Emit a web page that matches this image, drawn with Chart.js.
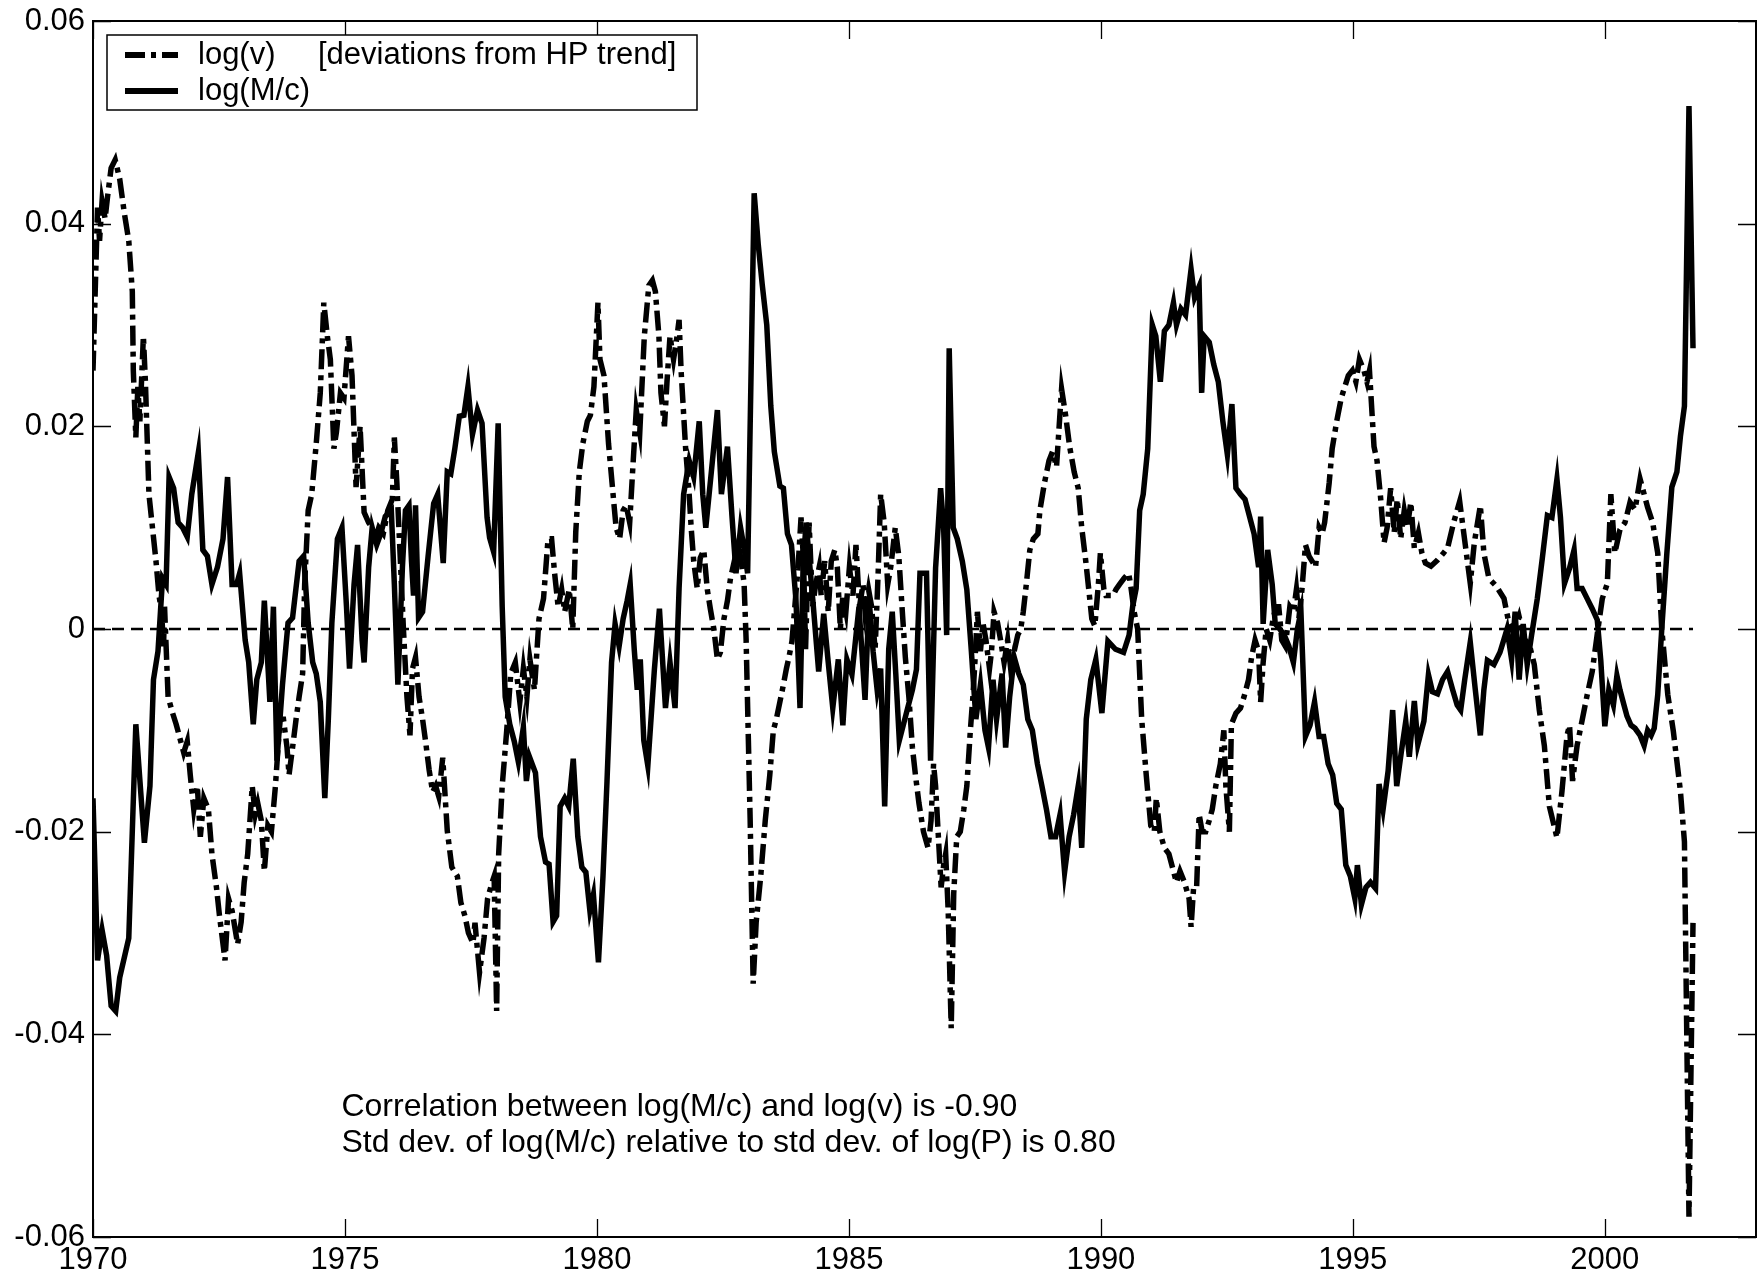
<!DOCTYPE html>
<html>
<head>
<meta charset="utf-8">
<script src="https://cdn.jsdelivr.net/npm/chart.js@4.4.1/dist/chart.umd.min.js"></script>
<style>
html,body{margin:0;padding:0;background:#fff;}
canvas{display:block;}
</style>
</head>
<body>
<canvas id="c" width="1760" height="1280"></canvas>
<script>
// ---------- DATA ----------
// log(v): deviations from HP trend (dash-dot)
const vYears = [
1970.00,1970.09,1970.13,1970.18,1970.24,1970.29,1970.36,1970.44,1970.53,1970.62,1970.71,1970.78,1970.80,1970.85,1970.89,1970.93,
1971.00,1971.04,1971.11,1971.18,1971.25,1971.31,1971.36,1971.40,1971.42,1971.49,1971.58,1971.65,1971.71,1971.80,1971.87,1971.93,
1972.00,1972.07,1972.13,1972.20,1972.29,1972.36,1972.45,1972.51,1972.62,1972.69,1972.76,1972.87,1972.94,
1973.00,1973.07,1973.16,1973.22,1973.27,1973.34,1973.40,1973.47,1973.54,1973.62,1973.71,1973.78,1973.85,1973.89,1973.96,
1974.03,1974.09,1974.16,1974.20,1974.27,1974.34,1974.43,1974.51,1974.58,1974.65,1974.71,1974.78,1974.83,1974.91,1974.98,
1975.07,1975.14,1975.22,1975.30,1975.38,1975.47,1975.54,1975.60,1975.67,1975.76,1975.85,1975.94,1975.98,
1976.03,1976.07,1976.16,1976.23,1976.29,1976.34,1976.40,1976.47,1976.54,1976.60,1976.67,1976.74,1976.80,1976.86,1976.94,
1977.03,1977.12,1977.23,1977.30,1977.38,1977.45,1977.54,1977.58,1977.67,1977.76,1977.83,1977.92,1977.96,
1978.01,1978.05,1978.12,1978.21,1978.29,1978.38,1978.47,1978.54,1978.61,1978.67,1978.76,1978.85,1978.94,
1979.03,1979.10,1979.16,1979.23,1979.30,1979.36,1979.45,1979.52,1979.58,1979.65,1979.72,1979.81,1979.87,1979.94,
1980.02,1980.06,1980.14,1980.23,1980.32,1980.38,1980.45,1980.52,1980.58,1980.65,1980.72,1980.78,1980.85,1980.94,
1981.03,1981.10,1981.16,1981.23,1981.27,1981.34,1981.39,1981.45,1981.52,1981.59,1981.63,1981.67,1981.76,1981.83,1981.87,1981.92,1981.99,
1982.05,1982.12,1982.19,1982.25,1982.32,1982.39,1982.45,1982.52,1982.59,1982.65,1982.74,1982.81,1982.88,1982.92,1982.96,
1983.04,1983.10,1983.16,1983.25,1983.34,1983.43,1983.50,1983.56,1983.63,1983.70,1983.76,1983.81,1983.87,1983.94,1983.99,
1984.05,1984.10,1984.14,1984.21,1984.28,1984.34,1984.41,1984.45,1984.52,1984.59,1984.65,1984.72,1984.77,1984.83,1984.88,1984.94,
1985.01,1985.08,1985.14,1985.21,1985.28,1985.32,1985.39,1985.45,1985.52,1985.58,1985.63,1985.70,1985.77,1985.83,1985.92,1985.99,
1986.06,1986.12,1986.19,1986.26,1986.32,1986.39,1986.48,1986.57,1986.63,1986.68,1986.72,1986.77,1986.83,1986.88,1986.92,1986.97,
1987.03,1987.08,1987.14,1987.21,1987.28,1987.34,1987.41,1987.46,1987.50,1987.55,1987.61,1987.66,1987.72,1987.79,1987.83,1987.88,1987.95,
1988.01,1988.08,1988.15,1988.21,1988.28,1988.35,1988.41,1988.46,1988.52,1988.59,1988.66,1988.75,1988.79,1988.88,1988.97,
1989.04,1989.12,1989.22,1989.30,1989.38,1989.47,1989.55,1989.62,1989.70,1989.76,1989.82,1989.88,1989.95,1989.99,
1990.06,1990.10,1990.17,1990.24,1990.30,1990.37,1990.46,1990.55,1990.59,1990.66,1990.73,1990.81,1990.90,1990.99,
1991.06,1991.10,1991.17,1991.26,1991.35,1991.44,1991.50,1991.57,1991.66,1991.75,1991.79,1991.84,1991.90,1991.95,
1992.01,1992.08,1992.15,1992.21,1992.28,1992.37,1992.44,1992.48,1992.55,1992.59,1992.68,1992.77,1992.84,1992.93,1992.99,
1993.06,1993.13,1993.17,1993.22,1993.28,1993.35,1993.42,1993.48,1993.53,1993.59,1993.66,1993.75,1993.82,1993.88,1993.93,1993.99,
1994.06,1994.13,1994.19,1994.26,1994.33,1994.39,1994.44,1994.53,1994.59,1994.68,1994.77,1994.84,1994.91,1994.99,
1995.06,1995.13,1995.22,1995.28,1995.33,1995.42,1995.48,1995.55,1995.62,1995.68,1995.75,1995.82,1995.88,1995.95,
1996.02,1996.08,1996.15,1996.22,1996.30,1996.37,1996.44,1996.55,1996.68,1996.80,1996.88,
1997.00,1997.12,1997.20,1997.33,1997.41,1997.53,1997.60,1997.70,1997.85,
1998.00,1998.10,1998.20,1998.30,1998.40,1998.50,1998.60,1998.70,1998.80,1998.90,
1999.05,1999.15,1999.25,1999.30,1999.36,1999.45,1999.55,1999.65,1999.75,1999.85,1999.95,
2000.05,2000.12,2000.20,2000.30,2000.40,2000.50,2000.60,2000.70,2000.78,2000.85,2000.95,
2001.05,2001.13,2001.25,2001.36,2001.50,2001.58,2001.67,2001.75
];
const vValues = [
0.0255,0.0416,0.0383,0.0422,0.0405,0.0427,0.0455,0.0463,0.0444,0.0411,0.0383,0.0333,0.0255,0.0189,0.0239,0.0205,
0.0289,0.0244,0.0133,0.0100,0.0067,0.0033,0.0017,-0.0017,0.0022,-0.0067,-0.0083,-0.0094,-0.0105,-0.0122,-0.0111,-0.0144,
-0.0178,-0.0155,-0.0205,-0.0167,-0.0178,-0.0222,-0.0255,-0.0283,-0.0327,-0.0266,-0.0278,-0.0311,-0.0289,
-0.0250,-0.0222,-0.0155,-0.0183,-0.0172,-0.0189,-0.0239,-0.0194,-0.0200,-0.0155,-0.0089,-0.0089,-0.0117,-0.0144,-0.0117,
-0.0089,-0.0067,-0.0044,0.0044,0.0117,0.0133,0.0183,0.0233,0.0322,0.0289,0.0266,0.0178,0.0194,0.0233,0.0228,
0.0289,0.0250,0.0140,0.0200,0.0115,0.0105,0.0100,0.0089,0.0100,0.0094,0.0117,0.0128,0.0189,
0.0144,0.0100,0.0000,-0.0067,-0.0105,-0.0039,-0.0028,-0.0067,-0.0089,-0.0111,-0.0139,-0.0161,-0.0155,-0.0165,-0.0127,
-0.0199,-0.0235,-0.0244,-0.0270,-0.0283,-0.0300,-0.0310,-0.0290,-0.0339,-0.0305,-0.0266,-0.0250,-0.0244,
-0.0377,-0.0222,-0.0155,-0.0100,-0.0044,-0.0033,-0.0072,-0.0039,-0.0067,-0.0030,-0.0060,0.0010,0.0030,
0.0089,0.0089,0.0055,0.0022,0.0039,0.0017,0.0039,0.0000,0.0096,0.0155,0.0183,0.0205,0.0211,0.0239,
0.0322,0.0266,0.0250,0.0183,0.0133,0.0100,0.0089,0.0117,0.0122,0.0105,0.0166,0.0216,0.0194,0.0289,
0.0339,0.0344,0.0333,0.0289,0.0233,0.0200,0.0244,0.0289,0.0266,0.0289,0.0305,0.0255,0.0178,0.0133,0.0100,0.0067,0.0040,
0.0070,0.0078,0.0039,0.0020,0.0000,-0.0030,-0.0023,0.0010,0.0028,0.0050,0.0070,0.0085,0.0060,0.0045,-0.0010,
-0.0187,-0.0350,-0.0289,-0.0244,-0.0189,-0.0144,-0.0100,-0.0089,-0.0072,-0.0055,-0.0039,-0.0028,-0.0012,0.0030,0.0060,
0.0110,0.0067,-0.0020,0.0105,0.0022,0.0044,0.0061,0.0033,0.0067,0.0017,0.0067,0.0078,0.0061,0.0000,0.0033,0.0017,
0.0061,0.0033,0.0083,0.0022,0.0044,0.0017,0.0039,0.0022,-0.0020,0.0055,0.0133,0.0105,0.0044,0.0061,0.0100,0.0072,
0.0017,-0.0028,-0.0067,-0.0117,-0.0144,-0.0172,-0.0200,-0.0216,-0.0189,-0.0133,-0.0155,-0.0200,-0.0255,-0.0233,-0.0222,-0.0278,
-0.0394,-0.0261,-0.0205,-0.0200,-0.0178,-0.0155,-0.0100,-0.0067,-0.0033,0.0017,-0.0022,0.0006,-0.0011,-0.0039,-0.0022,0.0017,0.0006,
-0.0011,-0.0033,-0.0011,-0.0039,-0.0022,-0.0006,0.0000,0.0017,0.0044,0.0078,0.0089,0.0094,0.0117,0.0144,0.0166,
0.0175,0.0160,0.0237,0.0211,0.0180,0.0155,0.0139,0.0100,0.0067,0.0039,0.0010,0.0003,0.0044,0.0075,
0.0039,0.0033,0.0033,0.0033,0.0039,0.0044,0.0050,0.0055,0.0044,0.0017,0.0000,-0.0089,-0.0144,-0.0194,
-0.0200,-0.0167,-0.0200,-0.0216,-0.0222,-0.0239,-0.0250,-0.0239,-0.0250,-0.0266,-0.0294,-0.0255,-0.0255,-0.0183,
-0.0200,-0.0200,-0.0189,-0.0178,-0.0155,-0.0133,-0.0100,-0.0155,-0.0200,-0.0094,-0.0083,-0.0078,-0.0067,-0.0050,-0.0028,
-0.0011,-0.0022,-0.0072,-0.0033,0.0000,-0.0011,0.0011,0.0022,0.0022,-0.0011,-0.0017,0.0022,0.0017,0.0039,0.0011,0.0039,
0.0083,0.0072,0.0067,0.0061,0.0100,0.0094,0.0105,0.0144,0.0178,0.0205,0.0228,0.0239,0.0250,0.0255,
0.0244,0.0266,0.0255,0.0244,0.0255,0.0180,0.0166,0.0130,0.0085,0.0100,0.0139,0.0095,0.0128,0.0089,
0.0117,0.0100,0.0125,0.0080,0.0095,0.0075,0.0065,0.0062,0.0068,0.0075,0.0080,
0.0105,0.0126,0.0095,0.0045,0.0085,0.0122,0.0075,0.0050,0.0042,
0.0030,0.0005,-0.0005,0.0012,-0.0010,-0.0015,-0.0035,-0.0080,-0.0115,-0.0175,
-0.0206,-0.0160,-0.0105,-0.0095,-0.0150,-0.0115,-0.0090,-0.0065,-0.0042,-0.0005,0.0030,
0.0045,0.0133,0.0075,0.0098,0.0105,0.0125,0.0118,0.0148,0.0133,0.0120,0.0105,
0.0075,0.0000,-0.0065,-0.0101,-0.0160,-0.0210,-0.0580,-0.0290
];

// log(M/c) (solid)
const mYears = [
1970.00,1970.09,1970.18,1970.27,1970.36,1970.45,1970.53,1970.71,1970.85,
1971.02,1971.13,1971.20,1971.29,1971.38,1971.45,1971.51,1971.60,1971.69,1971.78,1971.87,1971.96,
1972.09,1972.18,1972.27,1972.36,1972.47,1972.58,1972.67,1972.76,1972.85,1972.91,
1973.02,1973.09,1973.18,1973.25,1973.34,1973.40,1973.45,1973.51,1973.58,1973.65,1973.76,1973.87,1973.96,
1974.09,1974.18,1974.27,1974.36,1974.43,1974.51,1974.60,1974.67,1974.74,1974.85,1974.94,
1975.03,1975.09,1975.18,1975.25,1975.34,1975.38,1975.47,1975.54,1975.63,1975.71,1975.80,1975.92,1975.98,
1976.05,1976.14,1976.20,1976.27,1976.32,1976.36,1976.40,1976.46,1976.54,1976.65,1976.76,1976.84,1976.95,
1977.03,1977.10,1977.18,1977.27,1977.36,1977.44,1977.53,1977.63,1977.72,1977.82,1977.87,1977.95,
1978.04,1978.12,1978.18,1978.27,1978.36,1978.44,1978.54,1978.60,1978.66,1978.78,1978.88,1978.98,
1979.05,1979.13,1979.20,1979.27,1979.36,1979.44,1979.53,1979.62,1979.70,1979.78,1979.86,1979.93,
1980.03,1980.12,1980.20,1980.29,1980.36,1980.44,1980.52,1980.60,1980.66,1980.74,1980.80,1980.86,1980.93,
1981.01,1981.14,1981.24,1981.36,1981.45,1981.55,1981.63,1981.72,1981.83,1981.92,
1982.03,1982.10,1982.16,1982.27,1982.39,1982.47,1982.59,1982.68,1982.76,1982.85,1982.92,1982.99,
1983.12,1983.20,1983.28,1983.37,1983.45,1983.52,1983.63,1983.70,1983.78,1983.86,1983.95,
1984.03,1984.09,1984.15,1984.29,1984.40,1984.50,1984.58,1984.68,1984.79,1984.88,1984.96,
1985.06,1985.20,1985.32,1985.40,1985.48,1985.56,1985.63,1985.71,1985.79,1985.86,1985.93,
1986.00,1986.13,1986.26,1986.34,1986.41,1986.54,1986.62,1986.72,1986.82,1986.88,1986.94,1986.99,
1987.07,1987.15,1987.25,1987.34,1987.43,1987.52,1987.61,1987.70,1987.77,1987.86,1987.93,
1988.04,1988.11,1988.19,1988.28,1988.37,1988.46,1988.55,1988.64,1988.74,1988.83,1988.92,
1989.01,1989.10,1989.19,1989.28,1989.37,1989.46,1989.55,1989.62,1989.71,1989.80,1989.90,
1990.02,1990.14,1990.29,1990.45,1990.56,1990.63,1990.70,1990.77,1990.84,1990.93,
1991.02,1991.09,1991.18,1991.26,1991.35,1991.44,1991.50,1991.59,1991.68,1991.79,1991.86,1991.95,
1992.00,1992.05,1992.15,1992.24,1992.33,1992.42,1992.51,1992.60,1992.68,1992.77,1992.86,1992.95,
1993.04,1993.13,1993.17,1993.22,1993.31,1993.40,1993.46,1993.55,1993.64,1993.73,1993.82,1993.90,1993.97,
1994.06,1994.15,1994.24,1994.33,1994.42,1994.51,1994.60,1994.68,1994.77,1994.86,1994.95,
1995.04,1995.09,1995.17,1995.26,1995.35,1995.45,1995.52,1995.60,1995.70,1995.79,1995.87,1995.96,
1996.05,1996.12,1996.22,1996.29,1996.41,1996.50,1996.58,1996.68,1996.78,1996.88,1996.98,
1997.07,1997.14,1997.22,1997.33,1997.43,1997.53,1997.60,1997.67,1997.80,1997.92,
1998.00,1998.06,1998.15,1998.22,1998.30,1998.38,1998.46,1998.55,1998.66,1998.76,1998.86,1998.95,
1999.05,1999.12,1999.20,1999.30,1999.39,1999.45,1999.55,1999.65,1999.75,1999.85,1999.92,
2000.00,2000.08,2000.17,2000.24,2000.30,2000.38,2000.44,2000.52,2000.60,2000.70,2000.78,2000.85,2000.92,2000.98,
2001.05,2001.13,2001.23,2001.33,2001.43,2001.50,2001.58,2001.67,2001.75
];
const mValues = [
-0.0167,-0.0327,-0.0297,-0.0322,-0.0372,-0.0377,-0.0344,-0.0305,-0.0094,
-0.0211,-0.0155,-0.0050,-0.0022,0.0050,0.0044,0.0150,0.0139,0.0105,0.0100,0.0091,0.0133,
0.0174,0.0078,0.0072,0.0044,0.0061,0.0089,0.0150,0.0044,0.0044,0.0055,
-0.0011,-0.0033,-0.0094,-0.0050,-0.0033,0.0028,-0.0017,-0.0072,0.0022,-0.0130,-0.0055,0.0006,0.0011,
0.0067,0.0072,0.0006,-0.0033,-0.0044,-0.0072,-0.0167,-0.0089,0.0006,0.0089,0.0100,
0.0022,-0.0039,0.0044,0.0083,-0.0011,-0.0033,0.0061,0.0100,0.0083,0.0094,0.0111,0.0117,0.0044,
-0.0055,0.0061,0.0117,0.0122,0.0067,0.0033,0.0122,0.0011,0.0017,0.0072,0.0124,0.0133,0.0065,
0.0155,0.0153,0.0178,0.0210,0.0211,0.0239,0.0192,0.0216,0.0203,0.0110,0.0090,0.0076,
0.0203,0.0022,-0.0067,-0.0094,-0.0111,-0.0131,-0.0097,-0.0150,-0.0126,-0.0142,-0.0205,-0.0230,
-0.0232,-0.0289,-0.0283,-0.0175,-0.0167,-0.0175,-0.0128,-0.0205,-0.0235,-0.0240,-0.0278,-0.0262,
-0.0329,-0.0244,-0.0150,-0.0033,0.0005,-0.0017,0.0010,0.0028,0.0044,-0.0020,-0.0060,-0.0030,-0.0110,
-0.0135,-0.0040,0.0020,-0.0078,-0.0033,-0.0078,0.0040,0.0133,0.0166,0.0150,
0.0205,0.0133,0.0100,0.0155,0.0216,0.0133,0.0180,0.0111,0.0055,0.0100,0.0080,0.0055,
0.0430,0.0380,0.0340,0.0300,0.0220,0.0175,0.0141,0.0139,0.0094,0.0083,0.0028,
-0.0078,0.0060,0.0105,0.0025,-0.0042,0.0015,-0.0028,-0.0078,-0.0030,-0.0095,-0.0030,
-0.0045,0.0022,-0.0070,0.0030,-0.0022,-0.0060,-0.0039,-0.0175,-0.0020,0.0017,-0.0044,
-0.0110,-0.0085,-0.0060,-0.0040,0.0055,0.0055,-0.0130,0.0060,0.0139,0.0100,-0.0006,0.0277,
0.0100,0.0089,0.0067,0.0039,-0.0022,-0.0089,-0.0055,-0.0100,-0.0117,-0.0050,-0.0089,
-0.0044,-0.0117,-0.0067,-0.0028,-0.0044,-0.0055,-0.0089,-0.0100,-0.0133,-0.0155,-0.0178,
-0.0205,-0.0205,-0.0183,-0.0240,-0.0205,-0.0183,-0.0155,-0.0216,-0.0089,-0.0050,-0.0030,
-0.0083,-0.0012,-0.0020,-0.0023,-0.0006,0.0022,0.0040,0.0117,0.0133,0.0178,
0.0300,0.0289,0.0244,0.0294,0.0300,0.0322,0.0300,0.0316,0.0310,0.0355,0.0327,0.0338,
0.0233,0.0289,0.0283,0.0261,0.0244,0.0205,0.0172,0.0222,0.0139,0.0133,0.0128,0.0111,
0.0094,0.0061,0.0111,0.0005,0.0078,0.0044,0.0005,0.0000,-0.0006,-0.0017,-0.0033,0.0000,0.0017,
-0.0106,-0.0095,-0.0072,-0.0106,-0.0106,-0.0133,-0.0144,-0.0172,-0.0178,-0.0233,-0.0244,
-0.0266,-0.0233,-0.0272,-0.0255,-0.0250,-0.0256,-0.0153,-0.0178,-0.0140,-0.0080,-0.0155,-0.0122,
-0.0091,-0.0126,-0.0071,-0.0114,-0.0091,-0.0045,-0.0062,-0.0064,-0.0050,-0.0042,-0.0060,
-0.0075,-0.0080,-0.0050,-0.0013,-0.0060,-0.0105,-0.0060,-0.0031,-0.0035,-0.0023,
-0.0010,0.0000,-0.0030,0.0017,-0.0050,0.0005,-0.0035,-0.0005,0.0030,0.0070,0.0112,0.0110,
0.0148,0.0110,0.0045,0.0060,0.0078,0.0040,0.0040,0.0030,0.0020,0.0009,-0.0031,
-0.0096,-0.0060,-0.0075,-0.0046,-0.0060,-0.0075,-0.0086,-0.0095,-0.0098,-0.0105,-0.0115,-0.0100,-0.0105,-0.0098,
-0.0065,0.0000,0.0074,0.0140,0.0155,0.0190,0.0220,0.0516,0.0277
];

// zero reference line
const zeroYears = [1970, 2001.75];
const zeroValues = [0, 0];

// axes
const xTickValues = [1970, 1975, 1980, 1985, 1990, 1995, 2000];
const xTickLabels = ['1970', '1975', '1980', '1985', '1990', '1995', '2000'];
const yTickValues = [-0.06, -0.04, -0.02, 0, 0.02, 0.04, 0.06];
const yTickLabels = ['-0.06', '-0.04', '-0.02', '0', '0.02', '0.04', '0.06'];
const xRange = [1970, 2003];
const yRange = [-0.06, 0.06];

// texts
const seriesLabels = ['log(v)', 'log(M/c)'];
const legendNote = '[deviations from HP trend]';
const noteLines = [
  'Correlation between log(M/c) and log(v) is -0.90',
  'Std dev. of log(M/c) relative to std dev. of log(P) is 0.80'
];
const noteAnchor = [1974.93, -0.0472];

// ---------- CHART ----------
const FONT = '"Liberation Sans", Arial, Helvetica, sans-serif';
const FSIZE = 31;
const NOTESIZE = 32;
const LINEW = 5.5;
const DASHDOT = [20, 6, 5, 6];
const ZERODASH = [12, 7];

function toPoints(xs, ys) {
  const n = Math.min(xs.length, ys.length);
  const out = [];
  for (let i = 0; i < n; i++) out.push({x: xs[i], y: ys[i]});
  return out;
}

const framePlugin = {
  id: 'frameTicks',
  beforeDatasetsDraw(chart) {
    const {ctx, chartArea: a, scales: {x, y}} = chart;
    ctx.save();
    ctx.strokeStyle = '#000';
    ctx.lineWidth = 1.3;
    const TL = 18;
    ctx.beginPath();
    xTickValues.forEach(v => {
      const px = Math.round(x.getPixelForValue(v)) + 0.5;
      ctx.moveTo(px, a.bottom); ctx.lineTo(px, a.bottom - TL);
      ctx.moveTo(px, a.top); ctx.lineTo(px, a.top + TL);
    });
    yTickValues.forEach(v => {
      const py = Math.round(y.getPixelForValue(v)) + 0.5;
      ctx.moveTo(a.left, py); ctx.lineTo(a.left + TL, py);
      ctx.moveTo(a.right, py); ctx.lineTo(a.right - TL, py);
    });
    ctx.stroke();
    ctx.restore();
  },
  afterDatasetsDraw(chart) {
    const {ctx, chartArea: a} = chart;
    ctx.save();
    ctx.strokeStyle = '#000';
    ctx.lineWidth = 2;
    ctx.strokeRect(a.left, a.top, a.right - a.left, a.bottom - a.top);
    ctx.restore();
  },
  afterDraw(chart) {
    const {ctx, chartArea: a, scales: {x, y}} = chart;
    ctx.save();
    ctx.font = FSIZE + 'px ' + FONT;
    ctx.textBaseline = 'middle';
    ctx.textAlign = 'left';
    // legend box
    const bx = a.left + 14, by = a.top + 14, bw = 590, bh = 75;
    ctx.fillStyle = '#fff';
    ctx.fillRect(bx, by, bw, bh);
    ctx.strokeStyle = '#000';
    ctx.lineWidth = 1.5;
    ctx.strokeRect(bx, by, bw, bh);
    const ds = chart.data.datasets;
    const rows = [by + 20, by + 56];
    [0, 1].forEach((k, r) => {
      const d = ds[k];
      ctx.save();
      ctx.strokeStyle = d.borderColor;
      ctx.lineWidth = 6;
      ctx.lineCap = 'butt';
      ctx.setLineDash(d.borderDash || []);
      ctx.beginPath();
      ctx.moveTo(bx + 18, rows[r]);
      ctx.lineTo(bx + 71, rows[r]);
      ctx.stroke();
      ctx.restore();
      ctx.fillStyle = '#000';
      ctx.fillText(d.label, bx + 91, rows[r]);
    });
    ctx.fillText(legendNote, bx + 211, rows[0]);
    // annotation
    ctx.font = NOTESIZE + 'px ' + FONT;
    const nx = x.getPixelForValue(noteAnchor[0]);
    const ny = y.getPixelForValue(noteAnchor[1]);
    noteLines.forEach((t, i) => ctx.fillText(t, nx, ny + i * 36));
    ctx.restore();
  }
};

function noPad(s) {
  s.paddingTop = 0; s.paddingBottom = 0; s.paddingLeft = 0; s.paddingRight = 0;
}

new Chart(document.getElementById('c'), {
  type: 'line',
  data: {
    datasets: [
      {
        label: seriesLabels[0],
        data: toPoints(vYears, vValues),
        borderColor: '#000',
        borderWidth: LINEW,
        borderDash: DASHDOT,
        borderCapStyle: 'butt',
        borderJoinStyle: 'miter',
        pointRadius: 0,
        tension: 0,
        fill: false,
        order: 2
      },
      {
        label: seriesLabels[1],
        data: toPoints(mYears, mValues),
        borderColor: '#000',
        borderWidth: LINEW,
        borderJoinStyle: 'miter',
        pointRadius: 0,
        tension: 0,
        fill: false,
        order: 1
      },
      {
        label: 'zero',
        data: toPoints(zeroYears, zeroValues),
        borderColor: '#000',
        borderWidth: 2.5,
        borderDash: ZERODASH,
        pointRadius: 0,
        fill: false,
        order: 0
      }
    ]
  },
  options: {
    responsive: false,
    animation: false,
    devicePixelRatio: 1,
    layout: {padding: {top: 21, right: 4, left: 0, bottom: 0}},
    plugins: {legend: {display: false}, tooltip: {enabled: false}, title: {display: false}},
    scales: {
      x: {
        type: 'linear',
        min: xRange[0], max: xRange[1],
        afterBuildTicks: s => { s.ticks = xTickValues.map(v => ({value: v})); },
        afterFit: s => { s.height = 43; noPad(s); },
        grid: {display: false, drawTicks: false},
        border: {display: false},
        ticks: {
          autoSkip: false, maxRotation: 0, minRotation: 0, padding: 5,
          color: '#000', font: {family: FONT, size: FSIZE},
          callback: (v, i) => xTickLabels[i]
        }
      },
      y: {
        type: 'linear',
        min: yRange[0], max: yRange[1],
        afterBuildTicks: s => { s.ticks = yTickValues.map(v => ({value: v})); },
        afterFit: s => { s.width = 93; noPad(s); },
        grid: {display: false, drawTicks: false},
        border: {display: false},
        ticks: {
          autoSkip: false, padding: 8,
          color: '#000', font: {family: FONT, size: FSIZE},
          callback: (v, i) => yTickLabels[i]
        }
      }
    }
  },
  plugins: [framePlugin]
});
</script>
</body>
</html>
